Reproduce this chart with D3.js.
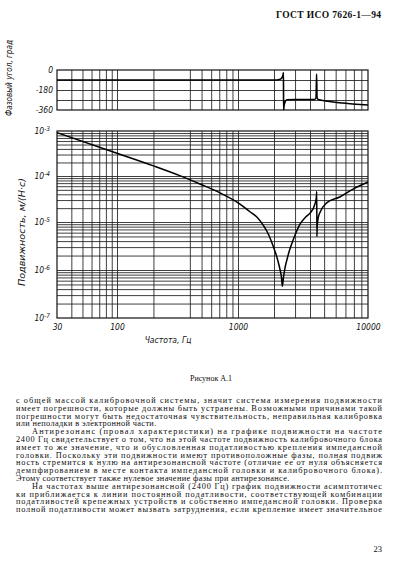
<!DOCTYPE html>
<html>
<head>
<meta charset="utf-8">
<script src="https://cdn.jsdelivr.net/npm/d3@7"></script>
<style>
  body { margin: 0; background: #fff; }
  svg { display: block; }
  .grid line { stroke: #1e1e1e; stroke-width: 0.85; }
  .grid .domain { display: none; }
  .axis .domain { display: none; }
  .lbl { font-family: "Liberation Sans Narrow", "DejaVu Sans Condensed", sans-serif; font-style: italic; fill: #111; }
  .txt { font-family: "Liberation Serif", "DejaVu Serif", serif; fill: #0d0d0d; }
</style>
</head>
<body>
<script>
// values
const freqTicks = [30, 100, 1000, 10000]
const mobTicks = [1e-3, 1e-4, 1e-5, 1e-6, 1e-7]
const phaseTicks = [0, -180, -360]
const phaseGrid = [-90, -180, -270]

const mobFreq = [30, 100, 200, 330, 485, 710, 1040, 1260, 1430, 1630, 1800, 1980, 2150, 2250, 2310, 2350,
  2400, 2470, 2560, 2700, 2890, 3300, 3700, 4000, 4330, 4420, 4450, 4460, 4480, 4560, 4700, 5200, 6400, 7900, 10000]
const mobVal = [9.2e-4, 3.2e-4, 1.68e-4, 1.02e-4, 6.7e-5, 4.3e-5, 2.46e-5, 1.67e-5, 1.3e-5, 8.5e-6, 5.5e-6, 3.0e-6, 1.6e-6, 1.0e-6, 7e-7, 4.6e-7,
  7e-7, 1.1e-6, 1.6e-6, 2.6e-6, 4.2e-6, 9e-6, 1.3e-5, 1.56e-5, 2.5e-5, 3.4e-5, 4.6e-5, 5.0e-6, 8.0e-6, 1.25e-5, 1.65e-5, 2.6e-5, 3.5e-5, 5.2e-5, 7.4e-5]

const phaseFreq = [30, 2100, 2250, 2330, 2380, 2400, 2405, 2430, 2480, 2560, 3000, 4300, 4400, 4440, 4470, 4560, 10000]
const phaseDeg = [-90, -90, -84, -68, -45, -24, -360, -320, -285, -268, -265, -265, -250, -36, -250, -266, -315]

const bodyLines = [
  ['с общей массой калибровочной системы, значит система измерения подвижности', 0, true],
  ['имеет погрешности, которые должны быть устранены. Возможными причинами такой', 0, true],
  ['погрешности могут быть недостаточная чувствительность, неправильная калибровка', 0, true],
  ['или неполадки в электронной части.', 0, false],
  ['Антирезонанс (провал характеристики) на графике подвижности на частоте', 1, true],
  ['2400 Гц свидетельствует о том, что на этой частоте подвижность калибровочного блока', 0, true],
  ['имеет то же значение, что и обусловленная податливостью крепления импедансной', 0, true],
  ['головки. Поскольку эти подвижности имеют противоположные фазы, полная подвиж', 0, true],
  ['ность стремится к нулю на антирезонансной частоте (отличие ее от нуля объясняется', 0, true],
  ['демпфированием в месте контакта импедансной головки и калибровочного блока).', 0, true],
  ['Этому соответствует также нулевое значение фазы при антирезонансе.', 0, false],
  ['На частотах выше антирезонансной (2400 Гц) график подвижности асимптотичес', 1, true],
  ['ки приближается к линии постоянной податливости, соответствующей комбинации', 0, true],
  ['податливостей крепежных устройств и собственно импедансной головки. Проверка', 0, true],
  ['полной податливости может вызвать затруднения, если крепление имеет значительное', 0, true]
]

const W = 397, H = 571
const left = 57, right = 368
const phTop = 70, phBottom = 110
const mobTop = 131, mobBottom = 318

const svg = d3.select('body').append('svg')
  .attr('width', W)
  .attr('height', H)

svg.append('rect').attr('width', W).attr('height', H).attr('fill', '#fff')

// the scanned log paper is slightly stretched, hence the piecewise domains
const x = d3.scaleLog().domain([30, 100, 1000, 4000, 10000]).range([57, 117, 238, 310, 368])
const yM = d3.scaleLog().domain([1e-3, 1e-4, 1e-5, 1e-6, 1e-7]).range([131, 176, 222, 270, 318])
const yP = d3.scaleLinear().domain([0, -360]).range([phTop, phBottom])

const gridFreq = []
for (let k = 1; k <= 4; k++) {
  for (let m = 1; m <= 9; m++) {
    const f = m * Math.pow(10, k)
    if (f > 30 && f < 10000 && f !== 300) gridFreq.push(f)
  }
}
const gridMob = []
for (let k = -7; k <= -4; k++) {
  for (let m = 1; m <= 9; m++) {
    const v = m * Math.pow(10, k)
    if (v > 1e-7) gridMob.push(v)
  }
}

// header
svg.append('text')
  .attr('class', 'txt')
  .attr('x', 381).attr('y', 18)
  .attr('text-anchor', 'end')
  .attr('font-size', 9.5)
  .attr('font-weight', 'bold')
  .attr('textLength', 105)
  .attr('lengthAdjust', 'spacing')
  .text('ГОСТ ИСО 7626-1—94')

// ---- phase panel
const ph = svg.append('g')

ph.append('g')
  .attr('class', 'grid')
  .attr('transform', 'translate(0,' + phBottom + ')')
  .call(d3.axisBottom(x).tickValues(gridFreq).tickSize(-(phBottom - phTop)).tickFormat(''))

ph.append('g')
  .attr('class', 'grid')
  .attr('transform', 'translate(' + left + ',0)')
  .call(d3.axisLeft(yP).tickValues(phaseGrid).tickSize(-(right - left)).tickFormat(''))

ph.append('rect')
  .attr('x', left).attr('y', phTop)
  .attr('width', right - left).attr('height', phBottom - phTop)
  .attr('fill', 'none').attr('stroke', '#111').attr('stroke-width', 1.2)

ph.append('g')
  .attr('class', 'axis lbl')
  .attr('transform', 'translate(' + (left - 4) + ',0)')
  .call(d3.axisLeft(yP).tickValues(phaseTicks).tickSize(0).tickPadding(0).tickFormat(d => String(d)))
  .call(g => g.selectAll('text').attr('class', 'lbl').attr('font-size', 8.5))

const phaseLine = d3.line()
  .x(d => x(d.f))
  .y(d => yP(d.p))
  .curve(d3.curveMonotoneX)

ph.append('path')
  .datum(phaseFreq.map((f, i) => ({f: f, p: phaseDeg[i]})))
  .attr('fill', 'none')
  .attr('stroke', '#000')
  .attr('stroke-width', 1.6)
  .attr('d', phaseLine)

svg.append('text')
  .attr('class', 'lbl')
  .attr('transform', 'translate(12,' + 78 + ') rotate(-90)')
  .attr('text-anchor', 'middle')
  .attr('font-size', 8.5)
  .attr('textLength', 76)
  .attr('lengthAdjust', 'spacingAndGlyphs')
  .text('Фазовый угол, град')

// ---- mobility panel
const mob = svg.append('g')

mob.append('g')
  .attr('class', 'grid')
  .attr('transform', 'translate(0,' + mobBottom + ')')
  .call(d3.axisBottom(x).tickValues(gridFreq).tickSize(-(mobBottom - mobTop)).tickFormat(''))

mob.append('g')
  .attr('class', 'grid')
  .attr('transform', 'translate(' + left + ',0)')
  .call(d3.axisLeft(yM).tickValues(gridMob).tickSize(-(right - left)).tickFormat(''))

mob.append('rect')
  .attr('x', left).attr('y', mobTop)
  .attr('width', right - left).attr('height', mobBottom - mobTop)
  .attr('fill', 'none').attr('stroke', '#111').attr('stroke-width', 1.2)

mob.append('g')
  .attr('class', 'axis')
  .attr('transform', 'translate(' + (left - 7) + ',0)')
  .call(d3.axisLeft(yM).tickValues(mobTicks).tickSize(0).tickPadding(0).tickFormat(''))
  .call(g => g.selectAll('.tick text').each(function(d) {
    const t = d3.select(this)
      .attr('class', 'lbl')
      .attr('font-size', 8.5)
    t.text('10')
    t.append('tspan')
      .attr('dy', '-0.5em')
      .attr('font-size', 6.5)
      .text('-' + Math.round(-Math.log10(d)))
  }))

mob.append('g')
  .attr('class', 'axis')
  .attr('transform', 'translate(0,' + mobBottom + ')')
  .call(d3.axisBottom(x).tickValues(freqTicks).tickSize(0).tickPadding(6).tickFormat(d3.format('d')))
  .call(g => g.selectAll('text').attr('class', 'lbl').attr('font-size', 8.5))

const mobLine = d3.line()
  .x(d => x(d.f))
  .y(d => yM(d.v))
  .curve(d3.curveMonotoneX)

mob.append('path')
  .datum(mobFreq.map((f, i) => ({f: f, v: mobVal[i]})))
  .attr('fill', 'none')
  .attr('stroke', '#000')
  .attr('stroke-width', 1.5)
  .attr('d', mobLine)

svg.append('text')
  .attr('class', 'lbl')
  .attr('transform', 'translate(25,' + 232 + ') rotate(-90)')
  .attr('text-anchor', 'middle')
  .attr('font-size', 9)
  .attr('textLength', 108)
  .attr('lengthAdjust', 'spacingAndGlyphs')
  .text('Подвижность, м/(Н·с)')

svg.append('text')
  .attr('class', 'lbl')
  .attr('x', 168).attr('y', 343)
  .attr('text-anchor', 'middle')
  .attr('font-size', 8.5)
  .text('Частота, Гц')

// caption and body text
svg.append('text')
  .attr('class', 'txt')
  .attr('x', 211).attr('y', 381)
  .attr('text-anchor', 'middle')
  .attr('font-size', 8)
  .text('Рисунок А.1')

const textLeft = 16, textRight = 382, indent = 16, lineH = 7.8
svg.append('g')
  .selectAll('text')
  .data(bodyLines)
  .join('text')
  .attr('class', 'txt')
  .attr('font-size', 8.3)
  .attr('x', d => textLeft + d[1] * indent)
  .attr('y', (d, i) => 403 + i * lineH)
  .attr('letter-spacing', d => d[2] ? null : 0.35)
  .attr('textLength', d => d[2] ? textRight - textLeft - d[1] * indent : null)
  .attr('lengthAdjust', 'spacing')
  .text(d => d[0])

svg.append('text')
  .attr('class', 'txt')
  .attr('x', 382).attr('y', 552)
  .attr('text-anchor', 'end')
  .attr('font-size', 8.5)
  .text('23')
</script>
</body>
</html>
